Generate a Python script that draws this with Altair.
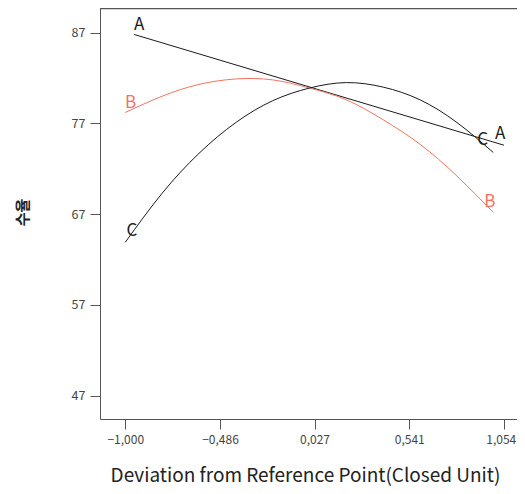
import altair as alt
import pandas as pd

# ---- data ----
trace_x = [-1.0, -0.8, -0.6, -0.4, -0.2, 0.0, 0.2, 0.4, 0.6, 0.8, 0.997]
b_vals = [78.2, 80.0, 81.3, 81.9, 81.8, 80.9, 79.6, 77.4, 74.7, 71.2, 67.2]
c_vals = [63.9, 69.3, 73.7, 77.1, 79.5, 80.9, 81.5, 81.0, 79.6, 77.1, 73.8]
a_x = [-0.951, 1.055]
a_vals = [86.8, 74.6]

label_text = ["A", "A", "B", "B", "C", "C"]
label_x = [-0.924, 1.034, -0.971, 0.978, -0.964, 0.939]
label_y = [87.9, 75.8, 79.2, 68.3, 65.1, 75.2]

x_ticks = [-1.0, -0.486, 0.027, 0.541, 1.054]
y_ticks = [47, 57, 67, 77, 87]

factors = ["A", "B", "C"]
colors = ["#1a1a1a", "#F4735F", "#1a1a1a"]

lines_df = pd.DataFrame({
    "x": a_x + trace_x + trace_x,
    "y": a_vals + b_vals + c_vals,
    "factor": ["A"] * len(a_x) + ["B"] * len(trace_x) + ["C"] * len(trace_x),
})
labels_df = pd.DataFrame({"x": label_x, "y": label_y, "factor": label_text})

FONT = "Noto Sans CJK KR"
W, H = 417, 411

xscale = alt.Scale(domain=[-1.137, 1.1258], nice=False, zero=False)
yscale = alt.Scale(domain=[44.43, 89.72], nice=False, zero=False)
color = alt.Color("factor:N", scale=alt.Scale(domain=factors, range=colors), legend=None)

xaxis = alt.Axis(
    values=x_ticks,
    labelExpr="replace(format(datum.value, '.3f'), '.', ',')",
    labelOffset={"condition": {"test": "datum.value > 1", "value": -3}, "value": 0},
    grid=False, tickSize=10, labelPadding=5,
    domainColor="#555", tickColor="#555", labelColor="#444",
    labelFont=FONT, labelFontSize=12,
    title="Deviation from Reference Point(Closed Unit)",
    titleFont=FONT, titleFontSize=19, titleFontWeight="normal", titleColor="#222",
    titleX=205, titleY=62, titleAlign="center", titleBaseline="alphabetic",
)
yaxis = alt.Axis(
    values=y_ticks,
    grid=False, tickSize=10, labelPadding=5,
    domainColor="#555", tickColor="#555", labelColor="#444",
    labelFont=FONT, labelFontSize=12.5,
    title="수율",
    titleFont=FONT, titleFontSize=15, titleFontWeight="bold", titleColor="#222",
    titleX=-78, titleY=204, titleAlign="center", titleBaseline="middle", titleAngle=270,
)

lines = alt.Chart(lines_df).mark_line(strokeWidth=1, interpolate="natural").encode(
    x=alt.X("x:Q", scale=xscale, axis=xaxis),
    y=alt.Y("y:Q", scale=yscale, axis=yaxis),
    color=color,
)

texts = alt.Chart(labels_df).mark_text(
    font=FONT, fontSize=17, align="center", baseline="middle"
).encode(
    x=alt.X("x:Q", scale=xscale),
    y=alt.Y("y:Q", scale=yscale),
    text="factor:N",
    color=color,
)

top = alt.Chart(pd.DataFrame({"v": [0]})).mark_rule(color="#555", strokeWidth=1.5).encode(
    x=alt.value(0), x2=alt.value(W), y=alt.value(0.5)
)

chart = alt.layer(lines, texts, top).properties(
    width=W, height=H,
    autosize=alt.AutoSizeParams(type="none"),
    padding={"left": 92, "top": 0, "right": 0, "bottom": 67},
).configure_view(stroke=None)

chart.save("out.html", embed_options={"renderer": "svg", "actions": False})
